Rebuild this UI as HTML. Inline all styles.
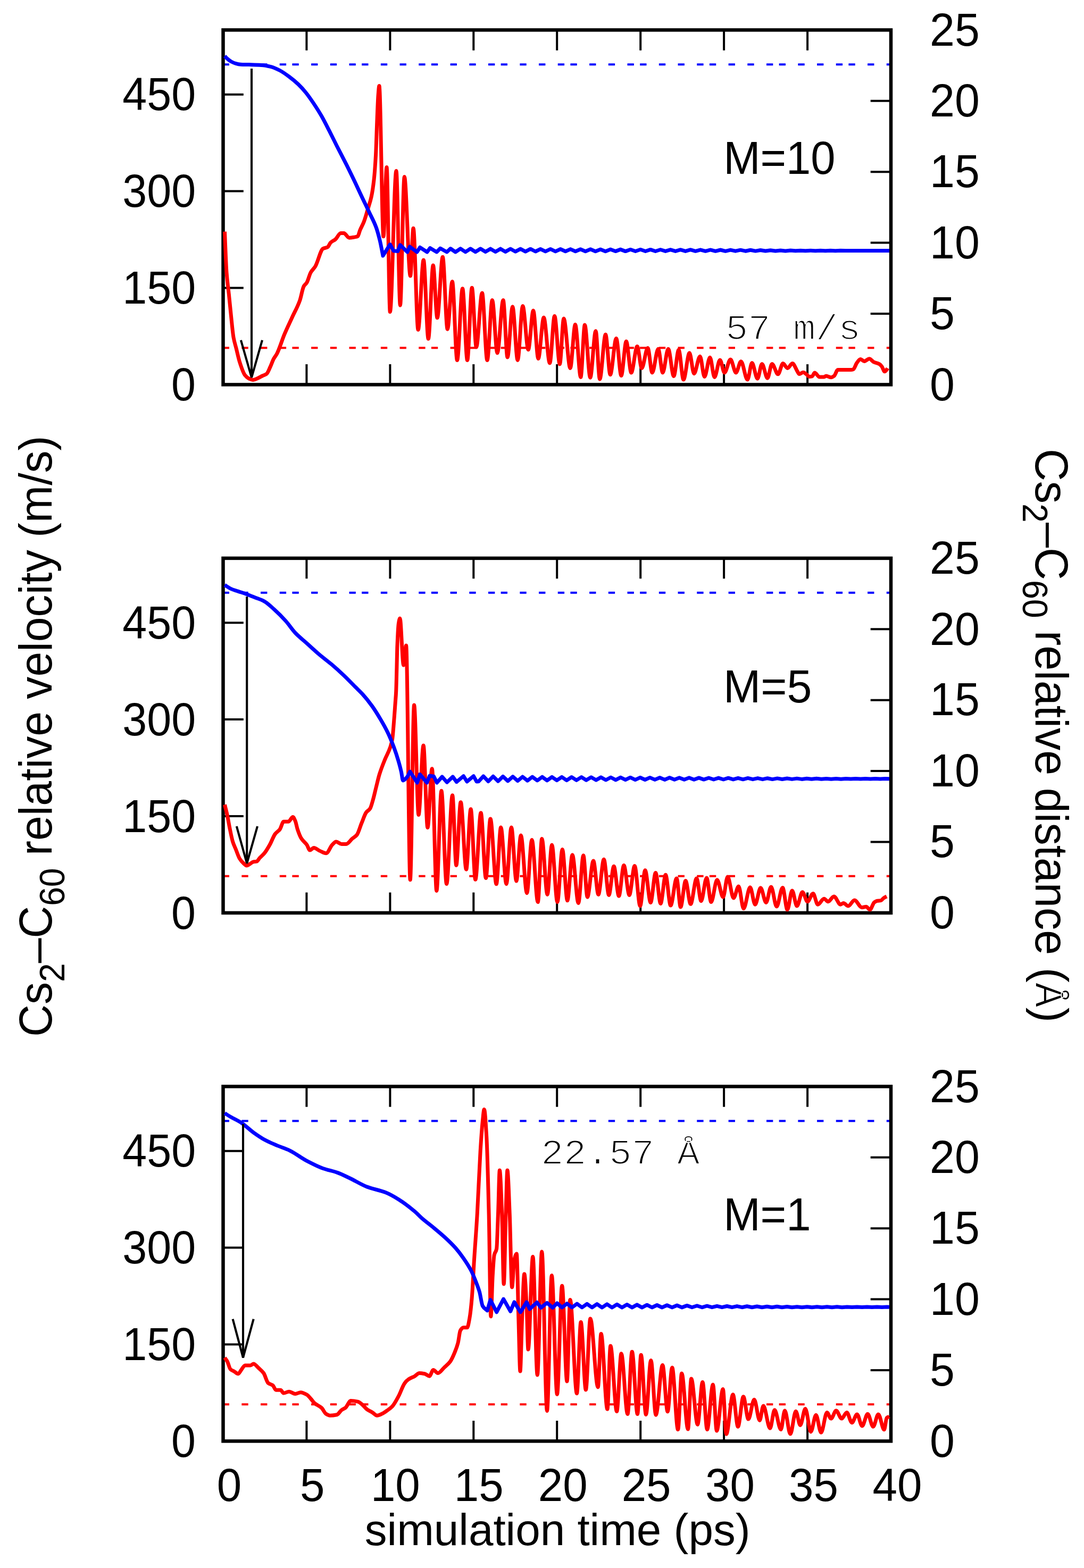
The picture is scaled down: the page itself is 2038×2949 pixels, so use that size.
<!DOCTYPE html><html><head><meta charset="utf-8"><title>Cs2-C60 relative velocity and distance</title>
<style>html,body{margin:0;padding:0;background:#fff;}svg{display:block;}</style></head><body>
<svg width="2038" height="2949" viewBox="0 0 2038 2949">
<rect x="0" y="0" width="2038" height="2949" fill="#fff"/>
<g fill="none" stroke-width="4" stroke-dasharray="12.35 11.3 12.35 23.35 12.35 23.35 12.35 23.35" stroke-dashoffset="24.5">
<path d="M419.5 121.2 H1675" stroke="#0000ff"/>
<path d="M419.5 654.3 H1675" stroke="#ff0000"/>
</g>
<path d="M576.4 56.4 v38.3 M576.4 723.4 v-38.3 M733.4 56.4 v38.3 M733.4 723.4 v-38.3 M890.3 56.4 v38.3 M890.3 723.4 v-38.3 M1047.2 56.4 v38.3 M1047.2 723.4 v-38.3 M1204.2 56.4 v38.3 M1204.2 723.4 v-38.3 M1361.1 56.4 v38.3 M1361.1 723.4 v-38.3 M1518.1 56.4 v38.3 M1518.1 723.4 v-38.3 M419.5 541.5 h38.3 M419.5 359.6 h38.3 M419.5 177.7 h38.3 M1675 590 h-38.3 M1675 456.6 h-38.3 M1675 323.2 h-38.3 M1675 189.8 h-38.3" stroke="#000" stroke-width="4" fill="none"/>
<rect x="419.5" y="56.4" width="1255.5" height="667" fill="none" stroke="#000" stroke-width="6.5"/>
<path d="M422.5 435.7 C423.7 461.3 424.8 497 426 512.6 C427.4 531.8 428.9 539.4 430.3 553.2 C431.8 567.4 433.2 583.1 434.7 596.7 C436.1 610 437.6 626.5 439 634.5 C440.7 644 442.4 648.4 444.1 655.2 C446.2 663.6 448.3 673.7 450.4 680.3 C453.7 690.7 457.1 701.2 460.4 705.4 C462.9 708.6 465.5 710.8 468 712 C470.5 713.2 472.9 714.5 475.4 714.5 C478.7 714.5 482.1 712.4 485.4 711 C488.3 709.8 491.2 707.9 494.1 706.5 C496.5 705.3 499 704.9 501.4 703 C503.6 701.3 505.8 695 508 690.3 C510.1 685.8 512.3 679.1 514.4 675.1 C516.5 671.2 518.5 669.2 520.6 665.3 C525.3 656.3 530.1 640 534.8 628.7 C539.6 617.2 544.5 607.3 549.3 596.7 C554.1 586.1 559 578.4 563.8 564.8 C566.2 558 568.6 543.1 571 538.7 C572.9 535.2 574.9 534.7 576.8 531.5 C579.2 527.5 581.7 516.9 584.1 512.6 C587 507.4 589.9 505.8 592.8 501 C597.6 493 602.5 470.2 607.3 467.6 C610.2 466 613.1 466.4 616 464.7 C617.9 463.6 619.9 457.8 621.8 456 C624.7 453.3 627.6 452.6 630.5 450.2 C633.9 447.4 637.3 438.6 640.7 438.6 C642.6 438.6 644.6 438.6 646.5 438.6 C649.9 438.6 653.2 447.3 656.6 447.3 C660 447.3 663.4 446.5 666.8 445.9 C668.7 445.5 670.7 445.4 672.6 444.4 C674 443.7 675.5 436.3 676.9 432.8 C679.3 426.9 681.8 423.2 684.2 416.9 C686.6 410.7 689 401.7 691.4 393.7 C693.7 386.1 695.9 380.5 698.2 370 C699.8 362.6 701.4 352.8 703 338.5 C704.2 328.1 705.3 313.3 706.5 292 C707.3 278 708 248.9 708.8 230 C709.5 211.9 710.3 189.6 711 180 C711.7 171.3 712.3 161.5 713 161.5 C715.6 161.5 718.3 444.8 720.9 444.8 C722.9 444.8 725 314.5 727 314.5 C729.1 314.5 731.2 586.5 733.3 586.5 C737.2 586.5 741.1 321.3 745 321.3 C747.5 321.3 749.9 574.2 752.4 574.2 C755 574.2 757.7 332.5 760.3 332.5 C764 332.5 767.8 519 771.5 519 C773.4 519 775.2 429.3 777.1 429.3 C780.1 429.3 783.1 620.3 786.1 620.3 C789.5 620.3 792.9 488.9 796.3 488.9 C799.3 488.9 802.3 637.2 805.3 637.2 C808.3 637.2 811.3 499 814.3 499 C816.9 499 819.5 597.8 822.1 597.8 C825.5 597.8 828.9 483.3 832.3 483.3 C835.3 483.3 838.3 619.2 841.3 619.2 C844.3 619.2 847.3 529.4 850.3 529.4 C853.4 529.4 856.4 677.5 859.5 677.5 C862.9 677.5 866.2 542.7 869.6 542.7 C872.6 542.7 875.6 677.5 878.6 677.5 C881.5 677.5 884.4 541.3 887.3 541.3 C890 541.3 892.8 653 895.5 653 C899.1 653 902.8 550.9 906.4 550.9 C909.6 550.9 912.8 677.5 916 677.5 C919.2 677.5 922.3 564.5 925.5 564.5 C928.7 564.5 931.8 663.9 935 663.9 C938.7 663.9 942.3 564.5 946 564.5 C948.7 564.5 951.4 672.1 954.1 672.1 C957.3 672.1 960.5 576.8 963.7 576.8 C966.9 576.8 970 677.5 973.2 677.5 C976.4 677.5 979.6 575.4 982.8 575.4 C986.3 575.4 989.7 657.7 993.2 657.7 C996.3 657.7 999.5 583.9 1002.6 583.9 C1005.7 583.9 1008.9 674.6 1012 674.6 C1015.4 674.6 1018.9 597 1022.3 597 C1026.1 597 1029.8 683.1 1033.6 683.1 C1036.6 683.1 1039.6 594.2 1042.6 594.2 C1045.9 594.2 1049.1 685 1052.4 685 C1054.9 685 1057.4 598.9 1059.9 598.9 C1064 598.9 1068 692.5 1072.1 692.5 C1075.2 692.5 1078.4 610.2 1081.5 610.2 C1084.9 610.2 1088.4 709.4 1091.8 709.4 C1094.3 709.4 1096.9 611.1 1099.4 611.1 C1102.8 611.1 1106.3 710.3 1109.7 710.3 C1113.1 710.3 1116.6 622.4 1120 622.4 C1122.5 622.4 1125.1 713.2 1127.6 713.2 C1131.2 713.2 1134.9 629 1138.5 629 C1141.4 629 1144.4 704.7 1147.3 704.7 C1151.1 704.7 1154.8 636.5 1158.6 636.5 C1161.7 636.5 1164.9 706.6 1168 706.6 C1171.1 706.6 1174.3 642.1 1177.4 642.1 C1180.5 642.1 1183.7 700.9 1186.8 700.9 C1190.5 700.9 1194.3 651.5 1198 651.5 C1200.8 651.5 1203.7 692.5 1206.5 692.5 C1210.3 692.5 1214 654.4 1217.8 654.4 C1220.6 654.4 1223.4 700.9 1226.2 700.9 C1230 700.9 1233.7 656.2 1237.5 656.2 C1240.3 656.2 1243.2 700.9 1246 700.9 C1249.4 700.9 1252.9 656.2 1256.3 656.2 C1259.8 656.2 1263.2 707.5 1266.7 707.5 C1269.8 707.5 1272.9 658.1 1276 658.1 C1279 658.1 1282 714.1 1285 714.1 C1288.8 714.1 1292.5 663.8 1296.3 663.8 C1299.1 663.8 1302 702.8 1304.8 702.8 C1308.6 702.8 1312.3 670.3 1316.1 670.3 C1318.9 670.3 1321.7 708.5 1324.5 708.5 C1327.9 708.5 1331.4 672.2 1334.8 672.2 C1337.6 672.2 1340.5 709.4 1343.3 709.4 C1346.7 709.4 1350.2 676.9 1353.6 676.9 C1356.4 676.9 1359.3 700.9 1362.1 700.9 C1365.9 700.9 1369.6 676 1373.4 676 C1376.8 676 1380.3 700.9 1383.7 700.9 C1386.8 700.9 1390 679.7 1393.1 679.7 C1397.2 679.7 1401.2 714.1 1405.3 714.1 C1408.1 714.1 1411 682.6 1413.8 682.6 C1417.2 682.6 1420.7 712.2 1424.1 712.2 C1426.9 712.2 1429.8 684.4 1432.6 684.4 C1436 684.4 1439.5 711.3 1442.9 711.3 C1445.7 711.3 1448.6 684.4 1451.4 684.4 C1455.2 684.4 1458.9 703.8 1462.7 703.8 C1465.8 703.8 1469 683.5 1472.1 683.5 C1474.9 683.5 1477.7 692.5 1480.5 692.5 C1483.6 692.5 1486.8 683.5 1489.9 683.5 C1493 683.5 1496.2 694.1 1499.3 698.8 C1500.4 700.5 1501.6 703.6 1502.7 703.6 C1505.2 703.6 1507.8 700.2 1510.3 700.2 C1512.1 700.2 1514 702.3 1515.8 703.6 C1517.7 704.9 1519.5 708.4 1521.4 708.4 C1523.2 708.4 1525.1 708.2 1526.9 707.8 C1528.5 707.5 1530.1 700.9 1531.7 700.9 C1534.7 700.9 1537.7 709.1 1540.7 709.1 C1543.4 709.1 1546.2 709.1 1548.9 709.1 C1550.3 709.1 1551.7 707.1 1553.1 707.1 C1556.3 707.1 1559.5 709.8 1562.7 709.8 C1564.5 709.8 1566.4 708.5 1568.2 707.1 C1570.6 705.4 1572.9 695.5 1575.3 695.5 C1583.5 695.5 1591.6 695.5 1599.8 695.5 C1601.2 695.5 1602.7 695.2 1604.1 694.7 C1606.4 694 1608.7 685.3 1611 682.3 C1613.3 679.4 1615.5 675.4 1617.8 675.4 C1620.1 675.4 1622.4 679.5 1624.7 679.5 C1627.9 679.5 1631.2 674.7 1634.4 674.7 C1637.2 674.7 1639.9 679.5 1642.7 680.9 C1646.4 682.8 1650 682.8 1653.7 685 C1655.1 685.8 1656.4 687.5 1657.8 689.2 C1659.6 691.5 1661.5 698.8 1663.3 698.8 C1664.7 698.8 1666.1 696.5 1667.5 694.7 C1667.9 694.1 1668.4 693.3 1668.8 692.6" fill="none" stroke="#ff0000" stroke-width="7" stroke-linejoin="round" stroke-linecap="butt"/>
<path d="M422.5 105.5 C424.3 107.3 426.2 109.5 428 111 C430.3 113 432.7 114.8 435 116 C437.7 117.4 440.3 118.6 443 119.3 C446.2 120.2 449.4 121 452.6 121.2 C457.7 121.5 462.9 121.4 468 121.6 C475.7 121.8 483.5 121.9 491.2 122.4 C497 122.7 502.8 123.9 508.6 125.3 C514.4 126.7 520.3 129.5 526.1 132.5 C531.9 135.5 537.7 139.8 543.5 144.1 C549.3 148.4 555.1 153.1 560.9 158.6 C565.7 163.2 570.6 168.6 575.4 174.6 C580.2 180.6 585.1 187.7 589.9 194.9 C594.7 202.1 599.6 209.7 604.4 218.1 C609.2 226.5 614.1 236.3 618.9 245.7 C623.7 255.1 628.6 265.1 633.4 274.7 C639.5 286.7 645.5 298.1 651.6 310.2 C657.1 321.3 662.7 332.7 668.2 344.3 C672.2 352.7 676.2 361.5 680.2 370 C684.9 380 689.6 389.4 694.3 399.5 C698.6 408.8 703 416 707.3 428 C709.6 434.3 711.8 442.7 714.1 452 C716.1 460.1 718 471.3 720 481 L733.3 459.7 L740 471.8 L747.9 472.5 L752.4 460.8 L765.9 474 L770.4 464 L783.9 474 L789.5 465.3 L803 474 L808.6 466.4 L821 474 L827.8 467 L840.1 474 L846.9 467.5 L856.3 474 L865.7 467.6 L875.1 473.9 L884.5 467.7 L893.9 473.8 L903.3 467.8 L912.7 473.6 L922.1 467.9 L931.5 473.5 L940.9 467.9 L950.3 473.4 L959.7 468 L969.1 473.2 L978.5 468.1 L987.9 473.1 L997.3 468.2 L1006.7 473 L1016.1 468.3 L1025.5 472.9 L1034.9 468.4 L1044.3 472.9 L1053.7 468.5 L1063.1 472.8 L1072.5 468.6 L1081.9 472.8 L1091.3 468.7 L1100.7 472.7 L1110.1 468.8 L1119.5 472.7 L1128.9 468.9 L1138.3 472.7 L1147.7 469 L1157.1 472.6 L1166.5 469.1 L1175.9 472.6 L1185.3 469.2 L1194.7 472.5 L1204.1 469.3 L1213.5 472.5 L1222.9 469.4 L1232.3 472.5 L1241.7 469.5 L1251.1 472.4 L1260.5 469.6 L1269.9 472.4 L1279.3 469.7 L1288.7 472.4 L1298.1 469.7 L1307.5 472.3 L1316.9 469.8 L1326.3 472.3 L1335.7 469.9 L1345.1 472.3 L1354.5 470 L1363.9 472.3 L1373.3 470.1 L1382.7 472.2 L1392.1 470.2 L1401.5 472.2 L1410.9 470.3 L1420.3 472.1 L1429.7 470.5 L1439.1 472 L1448.5 470.7 L1457.9 472 L1467.3 470.9 L1476.7 471.9 L1486.1 471.1 L1495.5 471.8 L1504.9 471.2 L1514.3 471.8 L1523.7 471.2 L1533.1 471.7 L1542.5 471.3 L1551.9 471.7 L1561.3 471.3 L1570.7 471.7 L1580.1 471.3 L1589.5 471.6 L1598.9 471.4 L1608.3 471.6 L1617.7 471.4 L1627.1 471.6 L1636.5 471.4 L1645.9 471.5 L1655.3 471.5 L1664.7 471.5 L1672 471.5" fill="none" stroke="#0000ff" stroke-width="7" stroke-linejoin="round" stroke-linecap="butt"/>
<g stroke="#000" stroke-width="4.1" fill="none" stroke-linecap="butt" stroke-linejoin="bevel">
<path d="M473 129 V710"/>
<path d="M452.9 639.7 L473 710 L493 639.7"/>
</g>
<g fill="none" stroke-width="4" stroke-dasharray="12.35 11.3 12.35 23.35 12.35 23.35 12.35 23.35" stroke-dashoffset="24.5">
<path d="M419.5 1114.7 H1675" stroke="#0000ff"/>
<path d="M419.5 1647.8 H1675" stroke="#ff0000"/>
</g>
<path d="M576.4 1049.9 v38.3 M576.4 1716.9 v-38.3 M733.4 1049.9 v38.3 M733.4 1716.9 v-38.3 M890.3 1049.9 v38.3 M890.3 1716.9 v-38.3 M1047.2 1049.9 v38.3 M1047.2 1716.9 v-38.3 M1204.2 1049.9 v38.3 M1204.2 1716.9 v-38.3 M1361.1 1049.9 v38.3 M1361.1 1716.9 v-38.3 M1518.1 1049.9 v38.3 M1518.1 1716.9 v-38.3 M419.5 1535 h38.3 M419.5 1353.1 h38.3 M419.5 1171.2 h38.3 M1675 1583.5 h-38.3 M1675 1450.1 h-38.3 M1675 1316.7 h-38.3 M1675 1183.3 h-38.3" stroke="#000" stroke-width="4" fill="none"/>
<rect x="419.5" y="1049.9" width="1255.5" height="667" fill="none" stroke="#000" stroke-width="6.5"/>
<path d="M422.5 1513.4 C424.1 1520.2 425.8 1526.1 427.4 1533.7 C428.9 1540.5 430.3 1549.9 431.8 1557 C433.7 1566.4 435.7 1576.8 437.6 1583 C439.5 1589.2 441.5 1592.7 443.4 1597.5 C445.8 1603.4 448.2 1611.2 450.6 1615 C453 1618.9 455.5 1621.5 457.9 1623.7 C459.8 1625.5 461.8 1628 463.7 1628 C465.6 1628 467.6 1626.1 469.5 1625.1 C471.9 1623.8 474.3 1621.2 476.7 1620.8 C478.6 1620.5 480.6 1620.6 482.5 1620.2 C484.4 1619.8 486.4 1615.6 488.3 1613.5 C491.2 1610.4 494.1 1608.3 497 1604.8 C500.4 1600.7 503.8 1594.8 507.2 1588.8 C510.6 1582.9 513.9 1572.9 517.3 1568.5 C520.2 1564.6 523.2 1563.7 526.1 1559.8 C528.5 1556.6 530.9 1545.3 533.3 1545.3 C536.2 1545.3 539.1 1545.3 542 1545.3 C544.9 1545.3 547.8 1536.6 550.7 1536.6 C552.2 1536.6 553.6 1540.5 555.1 1543.9 C556.5 1547.2 558 1555.6 559.4 1559.8 C561.8 1567 564.3 1573.4 566.7 1577.2 C570.1 1582.5 573.4 1584 576.8 1588.8 C578.7 1591.5 580.7 1599 582.6 1599 C585 1599 587.5 1594.6 589.9 1594.6 C593.8 1594.6 597.6 1598.7 601.5 1600.4 C605.4 1602.1 609.2 1604.8 613.1 1604.8 C617 1604.8 620.8 1592.6 624.7 1588.8 C627.1 1586.4 629.6 1583 632 1583 C635.4 1583 638.7 1587.4 642.1 1587.4 C645 1587.4 647.9 1587.4 650.8 1587.4 C654.7 1587.4 658.5 1580.5 662.4 1577.2 C665.3 1574.7 668.2 1573.6 671.1 1570 C674 1566.4 676.9 1555.2 679.8 1548.2 C682.7 1541.2 685.6 1531.9 688.5 1527.9 C690.9 1524.6 693.4 1524.4 695.8 1520.7 C697.7 1517.8 699.7 1509.7 701.6 1503 C703.5 1496.4 705.4 1487.5 707.3 1480 C709.4 1471.8 711.4 1462.6 713.5 1455.9 C716.9 1445 720.2 1437 723.6 1428.6 C727 1420.2 730.4 1415.5 733.8 1405.2 C735.1 1401.2 736.4 1397.4 737.7 1389.6 C738.7 1383.4 739.8 1367.4 740.8 1354.6 C741.6 1345.1 742.3 1334.2 743.1 1323.4 C743.6 1315.9 744.2 1311.3 744.7 1300 C745.1 1291.5 745.5 1272.7 745.9 1256.9 C746.2 1245.1 746.5 1225.9 746.8 1217.9 C747.7 1194.7 748.5 1177.9 749.4 1172.5 C750.2 1167.3 751.1 1163 751.9 1163 C754.2 1163 756.4 1251 758.7 1251 C760.3 1251 762 1214 763.6 1214 C766.1 1214 768.7 1654.7 771.2 1654.7 C773.7 1654.7 776.1 1326 778.6 1326 C781.4 1326 784.2 1532.6 787 1532.6 C790 1532.6 793.1 1402 796.1 1402 C798.7 1402 801.3 1556.6 803.9 1556.6 C806.7 1556.6 809.5 1445.7 812.3 1445.7 C815.1 1445.7 818 1675.4 820.8 1675.4 C823.8 1675.4 826.9 1487.3 829.9 1487.3 C833.1 1487.3 836.4 1662.5 839.6 1662.5 C843.3 1662.5 846.9 1495.7 850.6 1495.7 C853 1495.7 855.4 1627.4 857.8 1627.4 C860.6 1627.4 863.4 1508.7 866.2 1508.7 C869.7 1508.7 873.1 1635.2 876.6 1635.2 C879.4 1635.2 882.3 1521.7 885.1 1521.7 C888 1521.7 890.9 1654.3 893.8 1654.3 C897.2 1654.3 900.7 1528.8 904.1 1528.8 C907.2 1528.8 910.4 1651.5 913.5 1651.5 C916.3 1651.5 919.2 1540 922 1540 C925.7 1540 929.5 1662.7 933.2 1662.7 C936 1662.7 938.9 1556 941.7 1556 C945.1 1556 948.6 1662.7 952 1662.7 C955.1 1662.7 958.3 1556 961.4 1556 C964.5 1556 967.7 1657.1 970.8 1657.1 C973.6 1657.1 976.5 1571.1 979.3 1571.1 C983.1 1571.1 986.8 1679.7 990.6 1679.7 C993.7 1679.7 996.9 1579.5 1000 1579.5 C1003.7 1579.5 1007.5 1696.6 1011.2 1696.6 C1013.7 1696.6 1016.3 1577.6 1018.8 1577.6 C1022.2 1577.6 1025.7 1682.5 1029.1 1682.5 C1031.9 1682.5 1034.8 1588.9 1037.6 1588.9 C1041 1588.9 1044.5 1696.6 1047.9 1696.6 C1051 1696.6 1054.2 1597.4 1057.3 1597.4 C1060.4 1597.4 1063.6 1693.8 1066.7 1693.8 C1069.8 1693.8 1073 1607.7 1076.1 1607.7 C1079.9 1607.7 1083.6 1698.5 1087.4 1698.5 C1090.5 1698.5 1093.7 1608.7 1096.8 1608.7 C1099.3 1608.7 1101.8 1687.2 1104.3 1687.2 C1108.1 1687.2 1111.8 1619 1115.6 1619 C1118.7 1619 1121.9 1682.5 1125 1682.5 C1128.4 1682.5 1131.9 1616.2 1135.3 1616.2 C1138.4 1616.2 1141.6 1683.4 1144.7 1683.4 C1147.8 1683.4 1151 1629.3 1154.1 1629.3 C1157.2 1629.3 1160.4 1685.3 1163.5 1685.3 C1166.6 1685.3 1169.8 1627.5 1172.9 1627.5 C1176.3 1627.5 1179.8 1683.4 1183.2 1683.4 C1186.5 1683.4 1189.9 1628.4 1193.2 1628.4 C1196.6 1628.4 1200.1 1704.1 1203.5 1704.1 C1206.6 1704.1 1209.8 1636.8 1212.9 1636.8 C1216.3 1636.8 1219.8 1697.5 1223.2 1697.5 C1226.3 1697.5 1229.5 1641.5 1232.6 1641.5 C1235.7 1641.5 1238.9 1699.4 1242 1699.4 C1245.1 1699.4 1248.3 1645.3 1251.4 1645.3 C1254.5 1645.3 1257.7 1703.1 1260.8 1703.1 C1264.6 1703.1 1268.3 1651.9 1272.1 1651.9 C1274.6 1651.9 1277.1 1706 1279.6 1706 C1282.7 1706 1285.9 1656.6 1289 1656.6 C1292.1 1656.6 1295.3 1700.3 1298.4 1700.3 C1302.2 1700.3 1305.9 1651.9 1309.7 1651.9 C1312.5 1651.9 1315.4 1694.7 1318.2 1694.7 C1321.6 1694.7 1325.1 1650.9 1328.5 1650.9 C1331.3 1650.9 1334.2 1696.6 1337 1696.6 C1340.7 1696.6 1344.5 1654.7 1348.2 1654.7 C1352 1654.7 1355.7 1687.2 1359.5 1687.2 C1362.3 1687.2 1365.2 1649.1 1368 1649.1 C1371.7 1649.1 1375.5 1689.1 1379.2 1689.1 C1382.3 1689.1 1385.5 1666.9 1388.6 1666.9 C1391.7 1666.9 1394.9 1708.8 1398 1708.8 C1402.1 1708.8 1406.2 1668.8 1410.3 1668.8 C1413.4 1668.8 1416.6 1701.3 1419.7 1701.3 C1423.1 1701.3 1426.6 1669.7 1430 1669.7 C1433.4 1669.7 1436.9 1697.5 1440.3 1697.5 C1443.4 1697.5 1446.6 1667.9 1449.7 1667.9 C1453.2 1667.9 1456.6 1705 1460.1 1705 C1463.9 1705 1467.6 1669.5 1471.4 1669.5 C1474.4 1669.5 1477.3 1710.9 1480.3 1710.9 C1483.3 1710.9 1486.3 1675 1489.3 1675 C1492.3 1675 1495.3 1704 1498.3 1704 C1501.7 1704 1505.2 1677.8 1508.6 1677.8 C1511.8 1677.8 1515 1695.7 1518.2 1695.7 C1521.7 1695.7 1525.1 1680.5 1528.6 1680.5 C1531.6 1680.5 1534.5 1701.2 1537.5 1701.2 C1541.4 1701.2 1545.4 1690.2 1549.3 1690.2 C1551.8 1690.2 1554.3 1695.7 1556.8 1695.7 C1560.5 1695.7 1564.2 1686 1567.9 1686 C1572 1686 1576.2 1701.2 1580.3 1701.2 C1582.1 1701.2 1584 1698.4 1585.8 1698.4 C1588.8 1698.4 1591.7 1704 1594.7 1704 C1598.6 1704 1602.6 1692.9 1606.5 1692.9 C1611.1 1692.9 1615.7 1706.7 1620.3 1706.7 C1623 1706.7 1625.8 1705.3 1628.5 1705.3 C1630.8 1705.3 1633.1 1710.9 1635.4 1710.9 C1638.2 1710.9 1640.9 1699.2 1643.7 1697.1 C1645.5 1695.7 1647.4 1694.6 1649.2 1694.3 C1651.5 1693.9 1653.8 1694 1656.1 1693.6 C1657.9 1693.3 1659.8 1690 1661.6 1688.8 C1663.4 1687.6 1665.3 1686.9 1667.1 1686" fill="none" stroke="#ff0000" stroke-width="7" stroke-linejoin="round" stroke-linecap="butt"/>
<path d="M422.5 1100.3 C426.2 1102.6 429.8 1105.4 433.5 1107.1 C438 1109.2 442.5 1110.4 447 1111.9 C452.3 1113.7 457.6 1115.3 462.9 1117.2 C468.6 1119.3 474.3 1121.7 480 1124 C485.6 1126.2 491.1 1127.8 496.7 1130.8 C502.7 1134 508.7 1140 514.7 1145.4 C522.2 1152.1 529.8 1159.6 537.3 1168 C543.3 1174.7 549.4 1184.2 555.4 1190.5 C562.9 1198.4 570.4 1204 577.9 1210.8 C585.4 1217.6 593 1224.7 600.5 1231.1 C608 1237.5 615.5 1242.8 623 1249.2 C630.5 1255.6 638.1 1262.4 645.6 1269.5 C653.1 1276.6 660.6 1284.5 668.1 1292 C672.6 1296.5 677.2 1300.6 681.7 1305.6 C687.7 1312.2 693.7 1319.7 699.7 1328.1 C705 1335.5 710.2 1344 715.5 1353 C720 1360.6 724.5 1368.4 729 1377.8 C732.8 1385.7 736.5 1394.7 740.3 1404.8 C743.3 1412.8 746.3 1421.6 749.3 1431.9 C751 1437.8 752.8 1444.2 754.5 1452 C755.5 1456.6 756.6 1468 757.6 1468 C759.3 1468 760.9 1466 762.6 1464.5 C763.9 1463.3 765.2 1461.4 766.5 1459.8 L770.8 1451.2 L784.4 1472 L789.6 1456.4 L802.6 1472 L807.8 1459 L815.6 1460.3 L821.4 1472 L831.2 1460.9 L840.3 1471.3 L851.3 1460.9 L858.4 1470.6 L871.4 1459.6 L877.9 1470 L890.3 1459.6 L896.1 1470 L899.6 1469.8 L908.8 1459.9 L918 1469.5 L927.2 1460.2 L936.4 1469.2 L945.6 1460.4 L954.8 1468.9 L964.1 1460.6 L973.3 1468.6 L982.5 1460.9 L991.7 1468.2 L1000.9 1461.1 L1010.1 1468 L1019.3 1461.2 L1028.5 1467.9 L1037.7 1461.3 L1046.9 1467.7 L1056.2 1461.4 L1065.4 1467.6 L1074.6 1461.5 L1083.8 1467.4 L1093 1461.6 L1102.2 1467.3 L1111.4 1461.7 L1120.6 1467.1 L1129.8 1461.9 L1139 1467 L1148.3 1462 L1157.5 1466.9 L1166.7 1462.1 L1175.9 1466.7 L1185.1 1462.2 L1194.3 1466.6 L1203.5 1462.3 L1212.7 1466.5 L1221.9 1462.4 L1231.2 1466.4 L1240.4 1462.5 L1249.6 1466.4 L1258.8 1462.6 L1268 1466.3 L1277.2 1462.7 L1286.4 1466.2 L1295.6 1462.8 L1304.8 1466.2 L1314 1462.9 L1323.2 1466.1 L1332.5 1463 L1341.7 1466 L1350.9 1463.1 L1360.1 1466 L1369.3 1463.2 L1378.5 1465.9 L1387.7 1463.3 L1396.9 1465.8 L1406.1 1463.4 L1415.3 1465.7 L1424.6 1463.6 L1433.8 1465.7 L1443 1463.7 L1452.2 1465.6 L1461.4 1463.9 L1470.6 1465.5 L1479.8 1464 L1489 1465.4 L1498.2 1464.1 L1507.4 1465.4 L1516.7 1464.3 L1525.9 1465.3 L1535.1 1464.3 L1544.3 1465.3 L1553.5 1464.4 L1562.7 1465.2 L1571.9 1464.4 L1581.1 1465.2 L1590.3 1464.4 L1599.5 1465.1 L1608.8 1464.5 L1618 1465.1 L1627.2 1464.5 L1636.4 1465.1 L1645.6 1464.5 L1654.8 1465 L1664 1464.6 L1672 1464.8" fill="none" stroke="#0000ff" stroke-width="7" stroke-linejoin="round" stroke-linecap="butt"/>
<g stroke="#000" stroke-width="4.1" fill="none" stroke-linecap="butt" stroke-linejoin="bevel">
<path d="M464.2 1122 V1623.7"/>
<path d="M444.8 1554 L464.2 1623.7 L484 1554"/>
</g>
<g fill="none" stroke-width="4" stroke-dasharray="12.35 11.3 12.35 23.35 12.35 23.35 12.35 23.35" stroke-dashoffset="24.5">
<path d="M419.5 2108.2 H1675" stroke="#0000ff"/>
<path d="M419.5 2641.3 H1675" stroke="#ff0000"/>
</g>
<path d="M576.4 2043.4 v38.3 M576.4 2710.4 v-38.3 M733.4 2043.4 v38.3 M733.4 2710.4 v-38.3 M890.3 2043.4 v38.3 M890.3 2710.4 v-38.3 M1047.2 2043.4 v38.3 M1047.2 2710.4 v-38.3 M1204.2 2043.4 v38.3 M1204.2 2710.4 v-38.3 M1361.1 2043.4 v38.3 M1361.1 2710.4 v-38.3 M1518.1 2043.4 v38.3 M1518.1 2710.4 v-38.3 M419.5 2528.5 h38.3 M419.5 2346.6 h38.3 M419.5 2164.7 h38.3 M1675 2577 h-38.3 M1675 2443.6 h-38.3 M1675 2310.2 h-38.3 M1675 2176.8 h-38.3" stroke="#000" stroke-width="4" fill="none"/>
<rect x="419.5" y="2043.4" width="1255.5" height="667" fill="none" stroke="#000" stroke-width="6.5"/>
<path d="M422.5 2553.4 C424.1 2555.8 425.8 2557.6 427.4 2560.6 C429.3 2564.2 431.3 2573.2 433.2 2575.1 C435.6 2577.5 438.1 2578 440.5 2579.5 C442.9 2580.9 445.3 2583.8 447.7 2583.8 C449.6 2583.8 451.6 2579 453.5 2576.6 C455.9 2573.6 458.4 2567.9 460.8 2567.9 C464.2 2567.9 467.5 2567.9 470.9 2567.9 C472.8 2567.9 474.8 2565 476.7 2565 C479.6 2565 482.5 2569.6 485.4 2572.2 C488.8 2575.3 492.2 2577.7 495.6 2582.4 C498.5 2586.4 501.4 2599 504.3 2601.3 C507.2 2603.6 510.1 2603.4 513 2605.6 C514.9 2607.1 516.9 2614.3 518.8 2614.3 C521.7 2614.3 524.6 2614.3 527.5 2614.3 C529.4 2614.3 531.4 2620.1 533.3 2620.1 C536.7 2620.1 540.1 2617.2 543.5 2617.2 C547.4 2617.2 551.2 2621.6 555.1 2621.6 C558.5 2621.6 561.8 2618.7 565.2 2618.7 C569.1 2618.7 572.9 2620.8 576.8 2623 C579.2 2624.4 581.7 2627.6 584.1 2630.3 C586.5 2632.9 588.9 2636.9 591.3 2639 C595.7 2642.9 600 2643.7 604.4 2647.7 C607.3 2650.3 610.2 2657.5 613.1 2659.3 C615.5 2660.8 617.9 2662.2 620.3 2662.2 C624.7 2662.2 629 2661.6 633.4 2660.7 C636.3 2660.1 639.2 2654.1 642.1 2652 C644.5 2650.2 647 2649.6 649.4 2647.7 C652.8 2645 656.1 2634.6 659.5 2634.6 C663.9 2634.6 668.2 2635.2 672.6 2636.1 C675.5 2636.7 678.4 2639.6 681.3 2641.9 C684.2 2644.2 687.1 2648.5 690 2650.6 C693.4 2653.1 696.7 2654.3 700.1 2656.4 C703 2658.2 705.9 2662.2 708.8 2662.2 C712.6 2662.2 716.5 2659.7 720.3 2657.8 C723.2 2656.4 726.1 2654.1 729 2652 C731.9 2649.9 734.8 2647.9 737.7 2644.8 C741.6 2640.6 745.4 2633 749.3 2625.9 C753.2 2618.8 757 2606.4 760.9 2601.3 C763.3 2598.1 765.8 2595.7 768.2 2594 C772.1 2591.4 775.9 2590.4 779.8 2588.2 C782.7 2586.5 785.6 2582.4 788.5 2582.4 C791.9 2582.4 795.2 2583.1 798.6 2583.8 C801.5 2584.4 804.4 2588.2 807.3 2588.2 C809.7 2588.2 812.2 2576.6 814.6 2576.6 C817.5 2576.6 820.4 2582.4 823.3 2582.4 C827.2 2582.4 831 2575.8 834.9 2572.2 C838.8 2568.6 842.6 2565.9 846.5 2560.6 C848.9 2557.3 851.4 2551.8 853.8 2546.1 C856.2 2540.5 858.6 2534.8 861 2525.8 C862.5 2520.3 863.9 2505.1 865.4 2502.6 C867.3 2499.2 869.3 2496.8 871.2 2496.8 C873.6 2496.8 876 2496.8 878.4 2496.8 C879.9 2496.8 881.3 2487.4 882.8 2479.4 C884.2 2471.6 885.7 2458.1 887.1 2441.7 C888.6 2424.9 890 2392.2 891.5 2369.1 C893.4 2338.7 895.4 2315.2 897.3 2282.1 C899.2 2249 901.2 2197 903.1 2166.1 C904.5 2143.2 906 2121.5 907.4 2108 C908.4 2098.9 909.3 2086.5 910.3 2086.5 C911.8 2086.5 913.2 2112 914.7 2137 C916.2 2162 917.6 2222.3 919.1 2282.1 C920.3 2332.4 921.6 2476 922.8 2476 C924 2476 925.1 2417.2 926.3 2398.2 C927.3 2382.4 928.2 2364.8 929.2 2360.4 C930.7 2353.7 932.1 2356.1 933.6 2348.8 C934.6 2344 935.5 2306.5 936.5 2282.1 C937.5 2257.7 938.4 2201 939.4 2201 C940.8 2201 942.3 2245.6 943.7 2282.1 C944.9 2311.8 946 2415 947.2 2415 C948.5 2415 949.7 2321.3 951 2282.1 C952 2252.2 952.9 2201 953.9 2201 C955.3 2201 956.8 2248.3 958.2 2282.1 C959.7 2316.7 961.1 2421 962.6 2421 C964 2421 965.5 2375.1 966.9 2369.1 C968.4 2363 969.8 2358 971.3 2358 C972.5 2358 973.8 2444.9 975 2485.2 C976 2517.9 977 2579 978 2579 C979.1 2579 980.3 2511.9 981.4 2485.2 C982.9 2450.7 984.3 2396 985.8 2396 C987.2 2396 988.7 2428.8 990.1 2456.2 C991.1 2474.7 992 2538 993 2538 C995.9 2538 998.9 2363.4 1001.8 2363.4 C1004.6 2363.4 1007.5 2586 1010.3 2586 C1013.1 2586 1015.9 2354 1018.7 2354 C1022 2354 1025.2 2653.6 1028.5 2653.6 C1031.4 2653.6 1034.4 2398.8 1037.3 2398.8 C1040.7 2398.8 1044 2622.4 1047.4 2622.4 C1050.5 2622.4 1053.6 2418.2 1056.7 2418.2 C1059.8 2418.2 1062.9 2597.9 1066 2597.9 C1068 2597.9 1069.9 2444.4 1071.9 2444.4 C1076.1 2444.4 1080.3 2620.7 1084.5 2620.7 C1087 2620.7 1089.6 2486.6 1092.1 2486.6 C1095.2 2486.6 1098.3 2614 1101.4 2614 C1104.2 2614 1107.1 2479.9 1109.9 2479.9 C1114.7 2479.9 1119.4 2608.9 1124.2 2608.9 C1126.2 2608.9 1128.1 2508.6 1130.1 2508.6 C1134 2508.6 1138 2650.3 1141.9 2650.3 C1143.9 2650.3 1145.8 2531.3 1147.8 2531.3 C1151.7 2531.3 1155.7 2654.5 1159.6 2654.5 C1162.4 2654.5 1165.3 2545.7 1168.1 2545.7 C1172 2545.7 1176 2659.5 1179.9 2659.5 C1182.7 2659.5 1185.5 2542.3 1188.3 2542.3 C1191.7 2542.3 1195.1 2659.5 1198.5 2659.5 C1200.7 2659.5 1203 2548.2 1205.2 2548.2 C1208.3 2548.2 1211.4 2660.4 1214.5 2660.4 C1217.6 2660.4 1220.7 2558.4 1223.8 2558.4 C1226.9 2558.4 1230 2661.2 1233.1 2661.2 C1237.3 2661.2 1241.5 2567.2 1245.7 2567.2 C1248.8 2567.2 1252 2655 1255.1 2655 C1258 2655 1260.8 2571.9 1263.7 2571.9 C1267.3 2571.9 1271 2688.6 1274.6 2688.6 C1277 2688.6 1279.3 2582.9 1281.7 2582.9 C1285.6 2582.9 1289.5 2687.9 1293.4 2687.9 C1295.5 2687.9 1297.6 2593 1299.7 2593 C1303.6 2593 1307.6 2679.2 1311.5 2679.2 C1314.6 2679.2 1317.8 2599.3 1320.9 2599.3 C1323.8 2599.3 1326.6 2688.6 1329.5 2688.6 C1333.1 2688.6 1336.8 2604 1340.4 2604 C1342.8 2604 1345.1 2691 1347.5 2691 C1351.4 2691 1355.3 2612.6 1359.2 2612.6 C1361.3 2612.6 1363.4 2697.3 1365.5 2697.3 C1369.7 2697.3 1373.8 2622.8 1378 2622.8 C1381.1 2622.8 1384.3 2683.2 1387.4 2683.2 C1390.8 2683.2 1394.2 2626.7 1397.6 2626.7 C1400.7 2626.7 1403.9 2669.1 1407 2669.1 C1410.7 2669.1 1414.3 2632.2 1418 2632.2 C1421.4 2632.2 1424.8 2671.4 1428.2 2671.4 C1430.5 2671.4 1432.9 2643.9 1435.2 2643.9 C1439.4 2643.9 1443.5 2686.3 1447.7 2686.3 C1450.6 2686.3 1453.4 2651.8 1456.3 2651.8 C1460.2 2651.8 1464.2 2688.6 1468.1 2688.6 C1470.6 2688.6 1473 2653 1475.5 2653 C1479 2653 1482.4 2697.1 1485.9 2697.1 C1489.3 2697.1 1492.8 2654.3 1496.2 2654.3 C1499 2654.3 1501.7 2680.5 1504.5 2680.5 C1507.7 2680.5 1510.9 2649.5 1514.1 2649.5 C1517.5 2649.5 1521 2692.9 1524.4 2692.9 C1527.6 2692.9 1530.9 2661.2 1534.1 2661.2 C1537.3 2661.2 1540.5 2694.3 1543.7 2694.3 C1547.4 2694.3 1551.1 2656.4 1554.8 2656.4 C1557.3 2656.4 1559.9 2668.1 1562.4 2668.1 C1565.6 2668.1 1568.8 2653 1572 2653 C1575.4 2653 1578.9 2668.1 1582.3 2668.1 C1585.5 2668.1 1588.8 2656.4 1592 2656.4 C1595.2 2656.4 1598.4 2675.7 1601.6 2675.7 C1604.8 2675.7 1608.1 2659.9 1611.3 2659.9 C1614.5 2659.9 1617.7 2681.9 1620.9 2681.9 C1624.4 2681.9 1627.8 2659.2 1631.3 2659.2 C1634.7 2659.2 1638.2 2683.3 1641.6 2683.3 C1644.8 2683.3 1648.1 2659.9 1651.3 2659.9 C1655 2659.9 1658.6 2688.8 1662.3 2688.8 C1663.9 2688.8 1665.5 2668.3 1667.1 2666.7 C1668.7 2665.1 1670.4 2664.9 1672 2664" fill="none" stroke="#ff0000" stroke-width="7" stroke-linejoin="round" stroke-linecap="butt"/>
<path d="M422.5 2093.7 C426.2 2096 429.8 2098.3 433.5 2100.5 C440.3 2104.5 447 2107.3 453.8 2111.7 C461.3 2116.6 468.9 2124.4 476.4 2129.8 C483.9 2135.2 491.5 2140.4 499 2144.4 C506.5 2148.4 514 2151.4 521.5 2154.6 C529 2157.8 536.6 2160 544.1 2163.6 C555.4 2168.9 566.6 2178 577.9 2183.9 C587.7 2189 597.4 2194 607.2 2197.5 C616.2 2200.7 625.3 2202.2 634.3 2205.4 C641.8 2208.1 649.4 2212 656.9 2215.5 C668.2 2220.8 679.4 2228.2 690.7 2232.4 C702 2236.6 713.2 2238.2 724.5 2242.6 C733.5 2246.1 742.6 2251.5 751.6 2257.2 C761.1 2263.2 770.5 2270.6 780 2278.7 C784.3 2282.3 788.5 2287 792.8 2290.8 C800.6 2297.6 808.3 2303.2 816.1 2309.7 C822.9 2315.3 829.6 2320.9 836.4 2327.1 C843.2 2333.3 849.9 2339.7 856.7 2347.4 C861.5 2352.9 866.4 2359.3 871.2 2366.2 C876 2373.1 880.9 2380.2 885.7 2389.5 C888.6 2395.1 891.5 2402.4 894.4 2409.8 C896.8 2415.9 899.2 2421.7 901.6 2430.1 C903.5 2436.9 905.5 2452.9 907.4 2456.2 C910.3 2461.2 913.2 2462 916.1 2464.9 L922 2444.6 L933.6 2467.8 L946.6 2443.1 L959.7 2466.3 L966.9 2448.9 L978.5 2467.8 L990.1 2448.9 L995.9 2462 L1009.4 2449.5 L1017 2459.5 L1028.5 2450.3 L1039 2459.5 L1047.4 2451 L1056.6 2459 L1066 2451.7 L1075.4 2459 L1084.8 2452 L1094.2 2459 L1103.6 2452.3 L1113 2459 L1122.4 2452.6 L1131.8 2459.1 L1141.2 2452.9 L1150.6 2459.1 L1160 2453.2 L1169.4 2459.1 L1178.8 2453.5 L1188.2 2459.1 L1197.6 2453.9 L1207 2459.1 L1216.4 2454.2 L1225.8 2459 L1235.2 2454.5 L1244.6 2459 L1254 2454.8 L1263.4 2458.9 L1272.8 2455.1 L1282.2 2458.9 L1291.6 2455.4 L1301 2458.8 L1310.4 2455.7 L1319.8 2458.8 L1329.2 2456 L1338.6 2458.7 L1348 2456.3 L1357.4 2458.7 L1366.8 2456.5 L1376.2 2458.7 L1385.6 2456.6 L1395 2458.7 L1404.4 2456.8 L1413.8 2458.7 L1423.2 2457 L1432.6 2458.7 L1442 2457.2 L1451.4 2458.7 L1460.8 2457.3 L1470.2 2458.7 L1479.6 2457.5 L1489 2458.7 L1498.4 2457.7 L1507.8 2458.7 L1517.2 2457.7 L1526.6 2458.7 L1536 2457.8 L1545.4 2458.7 L1554.8 2457.8 L1564.2 2458.7 L1573.6 2457.8 L1583 2458.7 L1592.4 2457.9 L1601.8 2458.6 L1611.2 2457.9 L1620.6 2458.6 L1630 2457.9 L1639.4 2458.6 L1648.8 2458 L1658.2 2458.6 L1667.6 2458 L1672 2458.3" fill="none" stroke="#0000ff" stroke-width="7" stroke-linejoin="round" stroke-linecap="butt"/>
<g stroke="#000" stroke-width="4.1" fill="none" stroke-linecap="butt" stroke-linejoin="bevel">
<path d="M457 2114 V2553.4"/>
<path d="M437.6 2480.8 L457 2553.4 L476.7 2480.8"/>
</g>
<g fill="#000">
<text transform="translate(322.02 753.10) scale(0.9550 1)" font-family="'Liberation Sans', Arial, Helvetica, sans-serif" font-size="86.5" xml:space="preserve">0</text>
<text transform="translate(230.34 571.19) scale(0.9550 1)" font-family="'Liberation Sans', Arial, Helvetica, sans-serif" font-size="86.5" xml:space="preserve">150</text>
<text transform="translate(230.34 389.28) scale(0.9550 1)" font-family="'Liberation Sans', Arial, Helvetica, sans-serif" font-size="86.5" xml:space="preserve">300</text>
<text transform="translate(230.34 207.37) scale(0.9550 1)" font-family="'Liberation Sans', Arial, Helvetica, sans-serif" font-size="86.5" xml:space="preserve">450</text>
<text transform="translate(1748.00 752.60) scale(0.9750 1)" font-family="'Liberation Sans', Arial, Helvetica, sans-serif" font-size="86.5" xml:space="preserve">0</text>
<text transform="translate(1748.00 618.70) scale(0.9750 1)" font-family="'Liberation Sans', Arial, Helvetica, sans-serif" font-size="86.5" xml:space="preserve">5</text>
<text transform="translate(1748.00 485.80) scale(0.9750 1)" font-family="'Liberation Sans', Arial, Helvetica, sans-serif" font-size="86.5" xml:space="preserve">10</text>
<text transform="translate(1748.00 351.90) scale(0.9750 1)" font-family="'Liberation Sans', Arial, Helvetica, sans-serif" font-size="86.5" xml:space="preserve">15</text>
<text transform="translate(1748.00 219.00) scale(0.9750 1)" font-family="'Liberation Sans', Arial, Helvetica, sans-serif" font-size="86.5" xml:space="preserve">20</text>
<text transform="translate(1748.00 85.60) scale(0.9750 1)" font-family="'Liberation Sans', Arial, Helvetica, sans-serif" font-size="86.5" xml:space="preserve">25</text>
<text transform="translate(322.02 1746.60) scale(0.9550 1)" font-family="'Liberation Sans', Arial, Helvetica, sans-serif" font-size="86.5" xml:space="preserve">0</text>
<text transform="translate(230.34 1564.69) scale(0.9550 1)" font-family="'Liberation Sans', Arial, Helvetica, sans-serif" font-size="86.5" xml:space="preserve">150</text>
<text transform="translate(230.34 1382.78) scale(0.9550 1)" font-family="'Liberation Sans', Arial, Helvetica, sans-serif" font-size="86.5" xml:space="preserve">300</text>
<text transform="translate(230.34 1200.87) scale(0.9550 1)" font-family="'Liberation Sans', Arial, Helvetica, sans-serif" font-size="86.5" xml:space="preserve">450</text>
<text transform="translate(1748.00 1746.10) scale(0.9750 1)" font-family="'Liberation Sans', Arial, Helvetica, sans-serif" font-size="86.5" xml:space="preserve">0</text>
<text transform="translate(1748.00 1612.20) scale(0.9750 1)" font-family="'Liberation Sans', Arial, Helvetica, sans-serif" font-size="86.5" xml:space="preserve">5</text>
<text transform="translate(1748.00 1479.30) scale(0.9750 1)" font-family="'Liberation Sans', Arial, Helvetica, sans-serif" font-size="86.5" xml:space="preserve">10</text>
<text transform="translate(1748.00 1345.40) scale(0.9750 1)" font-family="'Liberation Sans', Arial, Helvetica, sans-serif" font-size="86.5" xml:space="preserve">15</text>
<text transform="translate(1748.00 1212.50) scale(0.9750 1)" font-family="'Liberation Sans', Arial, Helvetica, sans-serif" font-size="86.5" xml:space="preserve">20</text>
<text transform="translate(1748.00 1079.10) scale(0.9750 1)" font-family="'Liberation Sans', Arial, Helvetica, sans-serif" font-size="86.5" xml:space="preserve">25</text>
<text transform="translate(322.02 2740.10) scale(0.9550 1)" font-family="'Liberation Sans', Arial, Helvetica, sans-serif" font-size="86.5" xml:space="preserve">0</text>
<text transform="translate(230.34 2558.19) scale(0.9550 1)" font-family="'Liberation Sans', Arial, Helvetica, sans-serif" font-size="86.5" xml:space="preserve">150</text>
<text transform="translate(230.34 2376.28) scale(0.9550 1)" font-family="'Liberation Sans', Arial, Helvetica, sans-serif" font-size="86.5" xml:space="preserve">300</text>
<text transform="translate(230.34 2194.37) scale(0.9550 1)" font-family="'Liberation Sans', Arial, Helvetica, sans-serif" font-size="86.5" xml:space="preserve">450</text>
<text transform="translate(1748.00 2739.60) scale(0.9750 1)" font-family="'Liberation Sans', Arial, Helvetica, sans-serif" font-size="86.5" xml:space="preserve">0</text>
<text transform="translate(1748.00 2605.70) scale(0.9750 1)" font-family="'Liberation Sans', Arial, Helvetica, sans-serif" font-size="86.5" xml:space="preserve">5</text>
<text transform="translate(1748.00 2472.80) scale(0.9750 1)" font-family="'Liberation Sans', Arial, Helvetica, sans-serif" font-size="86.5" xml:space="preserve">10</text>
<text transform="translate(1748.00 2338.90) scale(0.9750 1)" font-family="'Liberation Sans', Arial, Helvetica, sans-serif" font-size="86.5" xml:space="preserve">15</text>
<text transform="translate(1748.00 2206.00) scale(0.9750 1)" font-family="'Liberation Sans', Arial, Helvetica, sans-serif" font-size="86.5" xml:space="preserve">20</text>
<text transform="translate(1748.00 2072.60) scale(0.9750 1)" font-family="'Liberation Sans', Arial, Helvetica, sans-serif" font-size="86.5" xml:space="preserve">25</text>
<text transform="translate(407.64 2823.00) scale(0.9650 1)" font-family="'Liberation Sans', Arial, Helvetica, sans-serif" font-size="86.5" xml:space="preserve">0</text>
<text transform="translate(564.09 2823.00) scale(0.9650 1)" font-family="'Liberation Sans', Arial, Helvetica, sans-serif" font-size="86.5" xml:space="preserve">5</text>
<text transform="translate(696.91 2823.00) scale(0.9650 1)" font-family="'Liberation Sans', Arial, Helvetica, sans-serif" font-size="86.5" xml:space="preserve">10</text>
<text transform="translate(853.84 2823.00) scale(0.9650 1)" font-family="'Liberation Sans', Arial, Helvetica, sans-serif" font-size="86.5" xml:space="preserve">15</text>
<text transform="translate(1011.75 2823.00) scale(0.9650 1)" font-family="'Liberation Sans', Arial, Helvetica, sans-serif" font-size="86.5" xml:space="preserve">20</text>
<text transform="translate(1168.68 2823.00) scale(0.9650 1)" font-family="'Liberation Sans', Arial, Helvetica, sans-serif" font-size="86.5" xml:space="preserve">25</text>
<text transform="translate(1326.11 2823.00) scale(0.9650 1)" font-family="'Liberation Sans', Arial, Helvetica, sans-serif" font-size="86.5" xml:space="preserve">30</text>
<text transform="translate(1483.04 2823.00) scale(0.9650 1)" font-family="'Liberation Sans', Arial, Helvetica, sans-serif" font-size="86.5" xml:space="preserve">35</text>
<text transform="translate(1640.46 2823.00) scale(0.9650 1)" font-family="'Liberation Sans', Arial, Helvetica, sans-serif" font-size="86.5" xml:space="preserve">40</text>
<text transform="translate(1360.17 326.80) scale(0.9612 1)" font-family="'Liberation Sans', Arial, Helvetica, sans-serif" font-size="86.5" xml:space="preserve">M=10</text>
<text transform="translate(1360.08 1320.90) scale(0.9744 1)" font-family="'Liberation Sans', Arial, Helvetica, sans-serif" font-size="86.5" xml:space="preserve">M=5</text>
<text transform="translate(1360.15 2313.80) scale(0.9640 1)" font-family="'Liberation Sans', Arial, Helvetica, sans-serif" font-size="86.5" xml:space="preserve">M=1</text>
<text transform="translate(1363.92 638.40) scale(1.0697 1)" font-family="'Liberation Mono', 'Courier New', monospace" font-size="66" stroke="#fff" stroke-width="2.2" xml:space="preserve">57 m/s</text>
<text transform="translate(1017.02 2188.60) scale(1.0768 1)" font-family="'Liberation Mono', 'Courier New', monospace" font-size="66" stroke="#fff" stroke-width="2.2" xml:space="preserve">22.57 Å</text>
<text transform="translate(685.81 2905.80) scale(0.9953 1)" font-family="'Liberation Sans', Arial, Helvetica, sans-serif" font-size="84" xml:space="preserve">simulation time (ps)</text>
<text transform="translate(96.80 1949.79) rotate(-90) scale(0.9723 1)" font-family="'Liberation Sans', Arial, Helvetica, sans-serif" font-size="86.5" xml:space="preserve">Cs<tspan dy="24.2" font-size="66.0">2</tspan><tspan dy="-24.2">–C</tspan><tspan dy="24.2" font-size="66.0">60</tspan><tspan dy="-24.2"> relative velocity (m/s)</tspan></text>
<text transform="translate(1947.00 843.89) rotate(90) scale(0.9764 1)" font-family="'Liberation Sans', Arial, Helvetica, sans-serif" font-size="86.5" xml:space="preserve">Cs<tspan dy="24.2" font-size="66.0">2</tspan><tspan dy="-24.2">–C</tspan><tspan dy="24.2" font-size="66.0">60</tspan><tspan dy="-24.2"> relative distance (</tspan><tspan font-family="'Liberation Mono', 'Courier New', monospace" font-size="80" stroke="#fff" stroke-width="1.8">Å</tspan>)</text>
</g>
</svg></body></html>
